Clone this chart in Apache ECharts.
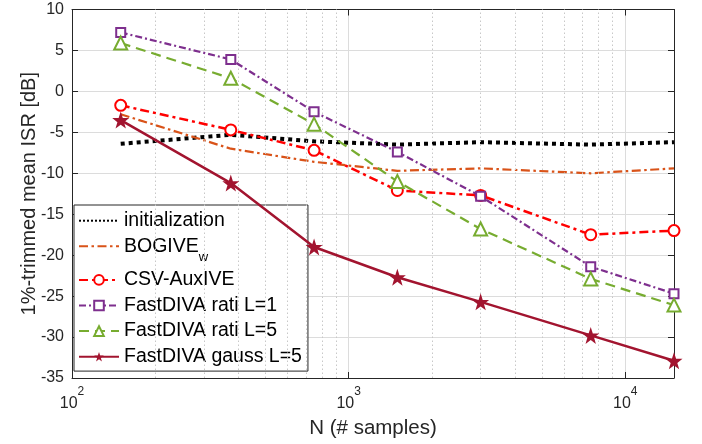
<!DOCTYPE html>
<html>
<head>
<meta charset="utf-8">
<script src="https://cdn.jsdelivr.net/npm/echarts@6/dist/echarts.min.js"></script>
<style>
html,body{margin:0;padding:0;background:#fff;}
#chart{width:702px;height:444px;}
</style>
</head>
<body>
<div id="chart"></div>
<script>
// ---- data ----
const N = [150, 375, 750, 1500, 3000, 7500, 15000];
const initialization = [-6.4, -5.3, -6.1, -6.5, -6.2, -6.5, -6.2];
const bogive = [-2.8, -7.0, -8.6, -9.7, -9.4, -10.0, -9.4];
const csvAux = [-1.7, -4.7, -7.2, -12.1, -12.7, -17.5, -17.0];
const ratiL1 = [7.2, 3.9, -2.5, -7.4, -12.8, -21.4, -24.7];
const ratiL5 = [5.9, 1.6, -4.0, -11.0, -16.8, -22.9, -26.1];
const gaussL5 = [-3.5, -11.2, -19.0, -22.7, -25.7, -29.8, -32.9];
const seriesNames = ['initialization', 'BOGIVE_w', 'CSV-AuxIVE', 'FastDIVA rati L=1', 'FastDIVA rati L=5', 'FastDIVA gauss L=5'];
const minorTicks = [200, 300, 400, 500, 600, 700, 800, 900, 2000, 3000, 4000, 5000, 6000, 7000, 8000, 9000];
const xMin = 100, xMax = 15000, yMin = -35, yMax = 10, yStep = 5;

const FONT = 'Liberation Sans, Arial, Helvetica, sans-serif';
const TXT = '#262626';
const STAR = 'path://M50,0 L61.8,35.1 L98.1,35.1 L68.8,56.7 L79.4,91 L50,70 L20.6,91 L31.2,56.7 L1.9,35.1 L38.2,35.1 Z';

function pairs(ys) { return N.map((x, i) => [x, ys[i]]); }

const chart = echarts.init(document.getElementById('chart'), null, {renderer: 'canvas'});

const gridLine = {show: true, lineStyle: {color: '#dcdcdc', width: 1}};
const axisLineStyle = {show: true, onZero: false, lineStyle: {color: TXT, width: 1}};

const option = {
  animation: false,
  backgroundColor: '#fff',
  textStyle: {fontFamily: FONT},
  grid: {left: 72, right: 28, top: 9.5, bottom: 66, containLabel: false},
  xAxis: [{
    type: 'log', logBase: 10, min: xMin, max: xMax,
    name: 'N (# samples)', nameLocation: 'middle', nameGap: 40, nameMoveOverlap: false,
    nameTextStyle: {fontSize: 20.5, color: TXT, fontFamily: FONT},
    axisLine: axisLineStyle,
    axisTick: {show: true, inside: true, length: 6, lineStyle: {color: TXT}},
    splitLine: gridLine,
    axisLabel: {
      margin: 8, showMaxLabel: false, color: TXT, fontFamily: FONT,
      formatter: function (v) {
        const e = Math.log10(v);
        if (Math.abs(e - Math.round(e)) > 1e-6) return '';
        return '{b|10}{s|' + Math.round(e) + '}';
      },
      rich: {
        b: {fontSize: 16, color: TXT, fontFamily: FONT, lineHeight: 26, verticalAlign: 'bottom'},
        s: {fontSize: 12, color: TXT, fontFamily: FONT, lineHeight: 12, verticalAlign: 'top'}
      }
    }
  }, {
    type: 'log', logBase: 10, min: xMin, max: xMax, position: 'top',
    axisLine: axisLineStyle,
    axisTick: {show: true, inside: true, length: 6, lineStyle: {color: TXT}},
    axisLabel: {show: false}, splitLine: {show: false}
  }],
  yAxis: [{
    type: 'value', min: yMin, max: yMax, interval: yStep,
    name: '1%-trimmed mean ISR [dB]', nameLocation: 'middle', nameGap: 33, nameRotate: 90, nameMoveOverlap: false,
    nameTextStyle: {fontSize: 20, color: TXT, fontFamily: FONT},
    axisLine: axisLineStyle,
    axisTick: {show: true, inside: true, length: 6, lineStyle: {color: TXT}},
    splitLine: gridLine,
    axisLabel: {margin: 8, fontSize: 16, color: TXT, fontFamily: FONT}
  }, {
    type: 'value', min: yMin, max: yMax, interval: yStep, position: 'right',
    axisLine: axisLineStyle,
    axisTick: {show: true, inside: true, length: 6, lineStyle: {color: TXT}},
    axisLabel: {show: false}, splitLine: {show: false}
  }],
  legend: {
    orient: 'vertical', left: 74, top: 205,
    itemWidth: 40, itemHeight: 12, itemGap: 5.6,
    padding: [5.7, 6, 4.4, 4],
    backgroundColor: '#fff', borderColor: TXT, borderWidth: 1,
    textStyle: {fontSize: 19.5, color: '#000', fontFamily: FONT, lineHeight: 20,
      rich: {sub: {fontSize: 13, color: '#000', fontFamily: FONT, verticalAlign: 'bottom', lineHeight: 12, padding: [0, 0, -8, 0]}}},
    formatter: function (name) {
      if (name === 'BOGIVE_w') return 'BOGIVE{sub|w}';
      return name;
    },
    data: [
      {name: seriesNames[0], itemStyle: {opacity: 0}},
      {name: seriesNames[1], itemStyle: {opacity: 0}},
      seriesNames[2], seriesNames[3], seriesNames[4], seriesNames[5]
    ]
  },
  series: [
    {
      name: seriesNames[0], type: 'line', data: pairs(initialization), z: 3,
      symbol: 'none', lineStyle: {color: '#000', width: 4, type: 'dotted'}, itemStyle: {color: '#000'},
      markLine: {
        silent: true, symbol: 'none', animation: false,
        label: {show: false},
        lineStyle: {color: '#c8c8c8', width: 1, type: [1.5, 2.5]},
        data: minorTicks.map(v => ({xAxis: v}))
      }
    },
    {
      name: seriesNames[1], type: 'line', data: pairs(bogive), z: 4,
      symbol: 'none', lineStyle: {color: '#D95319', width: 2.2, type: [9, 3.5, 2.5, 3.5]}, itemStyle: {color: '#D95319'}
    },
    {
      name: seriesNames[2], type: 'line', data: pairs(csvAux), z: 5,
      symbol: 'emptyCircle', symbolSize: 11,
      lineStyle: {color: '#FF0000', width: 2.5, type: [9, 4, 3, 4]},
      itemStyle: {color: '#FF0000', borderWidth: 2.5}
    },
    {
      name: seriesNames[3], type: 'line', data: pairs(ratiL1), z: 6,
      symbol: 'emptyRect', symbolSize: 9,
      lineStyle: {color: '#7E2F8E', width: 2.2, type: [7, 3, 2, 3]},
      itemStyle: {color: '#7E2F8E', borderWidth: 2.2}
    },
    {
      name: seriesNames[4], type: 'line', data: pairs(ratiL5), z: 6,
      symbol: 'emptyTriangle', symbolSize: 13,
      lineStyle: {color: '#77AC30', width: 2.2, type: [10, 6]},
      itemStyle: {color: '#77AC30', borderWidth: 2.5}
    },
    {
      name: seriesNames[5], type: 'line', data: pairs(gaussL5), z: 7,
      symbol: STAR, symbolSize: 17,
      lineStyle: {color: '#A2142F', width: 2.5, type: 'solid'},
      itemStyle: {color: '#A2142F'}
    }
  ]
};
chart.setOption(option);
</script>
</body>
</html>
